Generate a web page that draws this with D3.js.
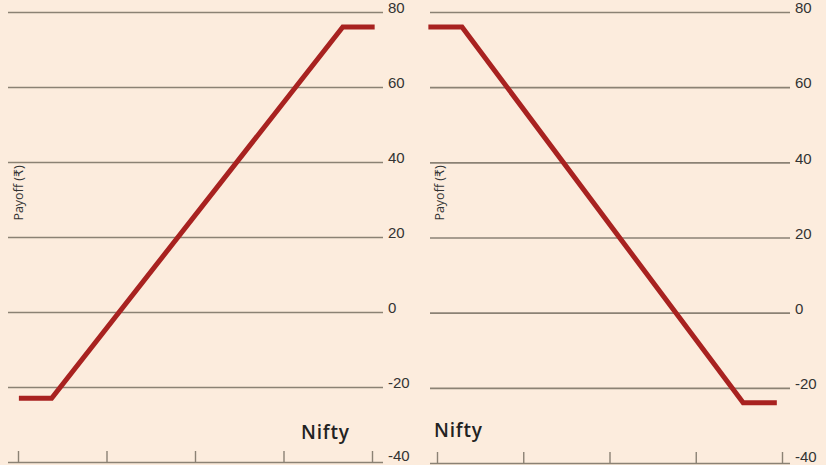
<!DOCTYPE html>
<html>
<head>
<meta charset="utf-8">
<script src="https://cdn.jsdelivr.net/npm/d3@7"></script>
<style>
  html, body { margin: 0; padding: 0; background: #fcecdd; }
  svg { display: block; font-family: "Open Sans", "DejaVu Sans", sans-serif; }
</style>
</head>
<body>
<svg id="chart" width="826" height="465"></svg>
<script>
// Payoff axis ticks (shared) and unlabeled Nifty ticks
const payoffTicks = [-40, -20, 0, 20, 40, 60, 80];
const niftyTicks = [0, 1, 2, 3, 4];

// Left panel: long position (bull spread)
const longNifty = [0.01, 0.38, 3.67, 4.03];
const longPayoff = [-23, -23, 76, 76];

// Right panel: short position (bear spread)
const shortNifty = [-0.1, 0.29, 3.55, 3.94];
const shortPayoff = [76, 76, -24, -24];

const svg = d3.select("#chart");

const red = "#a82220";
const gridColor = "#8b8274";

function drawPanel(opts) {
  const { gridLeft, gridRight, tickLeft, tickRight, yTop, yBottom, xs, ys, labelX, niftyX, niftyY } = opts;

  const x = d3.scaleLinear().domain([0, 4]).range([tickLeft, tickRight]);
  const y = d3.scaleLinear().domain([-40, 80]).range([yBottom, yTop]);

  const g = svg.append("g");

  // gridlines + labels on the right
  const yAxis = g.append("g")
    .attr("transform", `translate(${gridRight},0)`)
    .call(d3.axisRight(y)
      .tickValues(payoffTicks)
      .tickSize(-(gridRight - gridLeft))
      .tickPadding(5)
      .tickFormat(d => d < 0 ? "-" + Math.abs(d) : d));
  yAxis.select(".domain").remove();
  yAxis.selectAll("line")
    .attr("stroke", gridColor)
    .attr("stroke-width", 1.6);
  yAxis.selectAll("text")
    .attr("fill", "#333")
    .attr("font-size", 15)
    .attr("dy", d => d === -40 ? "-0.12em" : "0.05em");

  // small upward ticks on the bottom line
  const xAxis = g.append("g")
    .attr("transform", `translate(0,${y(-40)})`)
    .call(d3.axisTop(x).tickValues(niftyTicks).tickSize(11).tickFormat(""));
  xAxis.select(".domain").remove();
  xAxis.selectAll("line")
    .attr("stroke", gridColor)
    .attr("stroke-width", 1.4);

  // payoff line
  const pts = xs.map((d, i) => [d, ys[i]]);
  g.append("path")
    .datum(pts)
    .attr("fill", "none")
    .attr("stroke", red)
    .attr("stroke-width", 5)
    .attr("stroke-linejoin", "miter")
    .attr("d", d3.line().x(d => x(d[0])).y(d => y(d[1])));

  // y-axis title
  g.append("text")
    .attr("transform", `translate(${labelX},193) rotate(-90)`)
    .attr("text-anchor", "middle")
    .attr("font-size", 12.5)
    .attr("fill", "#333")
    .text("Payoff (₹)");

  // x-axis title
  g.append("text")
    .attr("x", niftyX)
    .attr("y", niftyY)
    .attr("font-size", 19)
    .attr("font-weight", 600)
    .attr("letter-spacing", 0.8)
    .attr("fill", "#222")
    .text("Nifty");
}

drawPanel({
  gridLeft: 8, gridRight: 383, tickLeft: 18, tickRight: 372,
  yTop: 12, yBottom: 462,
  xs: longNifty, ys: longPayoff,
  labelX: 23, niftyX: 301, niftyY: 439
});

drawPanel({
  gridLeft: 430, gridRight: 790, tickLeft: 437, tickRight: 782,
  yTop: 12, yBottom: 463,
  xs: shortNifty, ys: shortPayoff,
  labelX: 444, niftyX: 434, niftyY: 437
});
</script>
</body>
</html>
